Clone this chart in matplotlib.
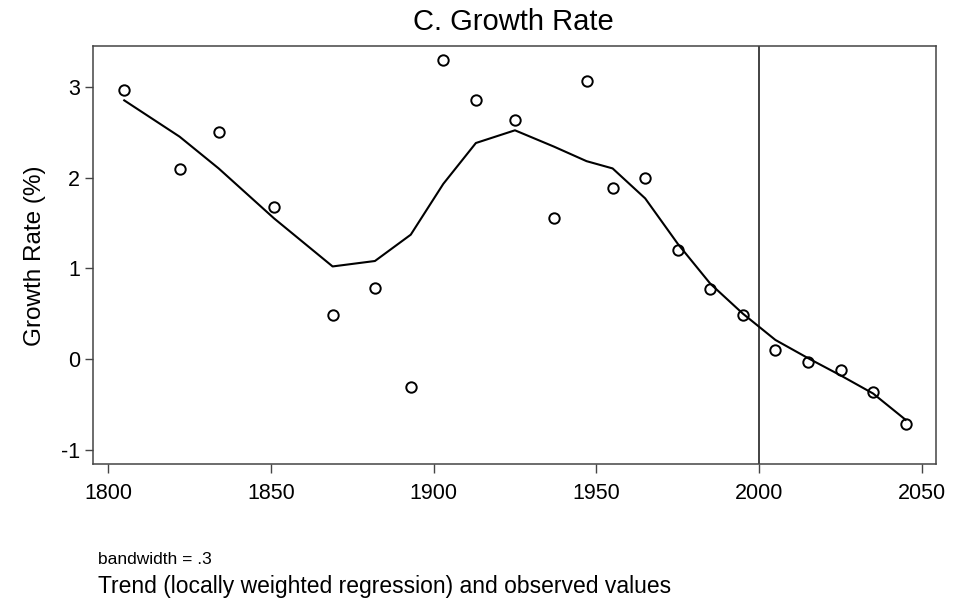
import numpy as np
import matplotlib
matplotlib.use("Agg")
import matplotlib.pyplot as plt

plt.rcParams['font.family'] = ['Liberation Sans', 'DejaVu Sans']

# observed growth rates (%)
years = [1805, 1822, 1834, 1851, 1869, 1882, 1893, 1903, 1913, 1925, 1937,
         1947, 1955, 1965, 1975, 1985, 1995, 2005, 2015, 2025, 2035, 2045]
observed = [2.96, 2.09, 2.50, 1.67, 0.48, 0.78, -0.31, 3.29, 2.85, 2.63, 1.55,
            3.06, 1.88, 1.99, 1.20, 0.77, 0.48, 0.10, -0.03, -0.12, -0.36, -0.72]
# lowess trend (bandwidth .3)
trend = [2.85, 2.45, 2.10, 1.55, 1.02, 1.08, 1.37, 1.93, 2.38, 2.52, 2.34,
         2.18, 2.10, 1.77, 1.27, 0.83, 0.50, 0.21, 0.01, -0.18, -0.38, -0.67]

xticks = [1800, 1850, 1900, 1950, 2000, 2050]
yticks = [-1, 0, 1, 2, 3]
ref_year = 2000

fig = plt.figure(figsize=(9.56, 6.04), dpi=100)
ax = fig.add_axes([0.0976, 0.2313, 0.8814, 0.6930])

ax.plot(years, trend, color='black', lw=1.5, zorder=3)
ax.plot(years, observed, 'o', mfc='none', mec='black', ms=7.5, mew=1.4, zorder=4)
ax.axvline(ref_year, color='#222222', lw=1.2, zorder=2)

ax.set_xlim(1795.5, 2054.3)
ax.set_ylim(-1.16, 3.452)
ax.set_xticks(xticks)
ax.set_yticks(yticks)
ax.set_yticklabels([str(v) for v in yticks])
ax.tick_params(axis='x', length=6.5, width=1, color='#444444', pad=7, labelsize=15.5)
ax.tick_params(axis='y', length=6, width=1, color='#444444', pad=3.5, labelsize=15.5)
for s in ax.spines.values():
    s.set_color('#444444')
    s.set_linewidth(1.1)

fig.text(0.537, 0.9636, 'C. Growth Rate', ha='center', va='center', fontsize=21)
fig.text(35 / 956, 0.576, 'Growth Rate (%)', rotation=90, ha='center', va='center', fontsize=17.5)
fig.text(98 / 956, 1 - 560 / 604, 'bandwidth = .3', ha='left', va='center', fontsize=12.5)
fig.text(98 / 956, 1 - 587 / 604, 'Trend (locally weighted regression) and observed values',
         ha='left', va='center', fontsize=16.5)

fig.savefig('out.png', dpi=100)
